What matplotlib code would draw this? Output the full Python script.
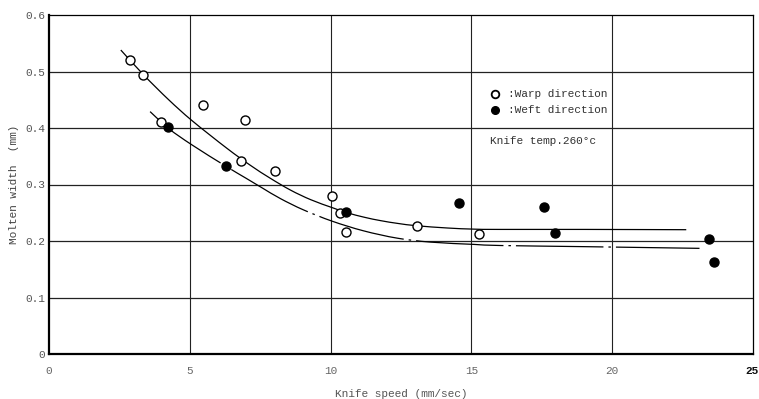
import matplotlib
matplotlib.use("Agg")
import matplotlib.pyplot as plt
from matplotlib.path import Path
from matplotlib.patches import PathPatch

warp_x = [2.88, 3.35, 3.99, 5.48, 6.97, 6.83, 8.04, 10.04, 10.32, 10.53, 13.06, 15.27]
warp_y = [0.520, 0.494, 0.411, 0.441, 0.414, 0.342, 0.324, 0.280, 0.249, 0.216, 0.227, 0.212]

weft_x = [4.23, 6.30, 10.53, 14.56, 17.58, 17.97, 23.45, 23.60]
weft_y = [0.402, 0.333, 0.251, 0.267, 0.260, 0.214, 0.204, 0.163]

# hand-drawn fit curves
warp_fit_x = [2.55, 3.36, 4.25, 5.08, 6.32, 7.15, 7.86, 8.58, 9.3, 10.06,
              10.59, 11.2, 11.78, 12.4, 13.06, 14.15, 15.09, 16.05, 19.0, 22.63]
warp_fit_y = [0.538, 0.494, 0.450, 0.413, 0.364, 0.334, 0.311, 0.290, 0.273, 0.259,
              0.250, 0.242, 0.236, 0.231, 0.227, 0.223, 0.221, 0.2205, 0.2205, 0.220]

weft_fit_x = [3.59, 4.25, 5.08, 6.26, 7.0, 7.57, 8.22, 9.04, 10.06, 11.17, 12.37, 13.56,
              15.09, 16.05, 19.0, 23.1]
weft_fit_y = [0.429, 0.399, 0.370, 0.333, 0.311, 0.294, 0.275, 0.255, 0.235, 0.218, 0.205, 0.198,
              0.194, 0.192, 0.190, 0.187]

x_ticks = [0, 5, 10, 15, 20, 25]
x_tick_labels = ["0", "5", "10", "15", "20", "25"]
y_ticks = [0, 0.1, 0.2, 0.3, 0.4, 0.5, 0.6]
y_tick_labels = ["0", "0.1", "0.2", "0.3", "0.4", "0.5", "0.6"]

mono = "Liberation Mono"


def smooth_path(xs, ys):
    # catmull-rom through the traced points, handed to matplotlib as bezier segments
    pts = list(zip(xs, ys))
    verts = [pts[0]]
    codes = [Path.MOVETO]
    for i in range(len(pts) - 1):
        p0 = pts[max(i - 1, 0)]
        p1 = pts[i]
        p2 = pts[i + 1]
        p3 = pts[min(i + 2, len(pts) - 1)]
        c1 = (p1[0] + (p2[0] - p0[0]) / 6, p1[1] + (p2[1] - p0[1]) / 6)
        c2 = (p2[0] - (p3[0] - p1[0]) / 6, p2[1] - (p3[1] - p1[1]) / 6)
        verts += [c1, c2, p2]
        codes += [Path.CURVE4] * 3
    return Path(verts, codes)


fig = plt.figure(figsize=(7.59, 3.99), dpi=100)
ax = fig.add_axes([49 / 759, 1 - 354 / 399, 704 / 759, 339 / 399])

ax.set_xlim(0, 25)
ax.set_ylim(0, 0.6)

# grid like graph paper
for xv in x_ticks[1:-1]:
    ax.axvline(xv, color="#222222", lw=0.8, zorder=1)
for yv in y_ticks[1:-1]:
    ax.axhline(yv, color="#222222", lw=0.9, zorder=1)

ax.add_patch(PathPatch(smooth_path(warp_fit_x, warp_fit_y), fill=False,
                       edgecolor="black", lw=0.9, zorder=2))
ax.add_patch(PathPatch(smooth_path(weft_fit_x, weft_fit_y), fill=False,
                       edgecolor="black", lw=0.9, linestyle=(0, (70, 4, 2, 4)), zorder=2))

ax.plot(warp_x, warp_y, "o", ms=6.5, mfc="white", mec="black", mew=1.0, zorder=3)
ax.plot(weft_x, weft_y, "o", ms=6.5, mfc="black", mec="black", zorder=3)

# in-plot legend and note
ax.plot([15.85], [0.460], "o", ms=5.5, mfc="white", mec="black", mew=1.3, zorder=3)
ax.plot([15.85], [0.431], "o", ms=5.5, mfc="black", mec="black", zorder=3)
ax.text(16.3, 0.460, ":Warp direction", family=mono, fontsize=8, color="#333333", va="center")
ax.text(16.3, 0.431, ":Weft direction", family=mono, fontsize=8, color="#333333", va="center")
ax.text(15.65, 0.377, "Knife temp.260\u00b0c", family=mono, fontsize=8, color="#333333", va="center")

ax.set_xticks(x_ticks[:-1])
ax.set_xticklabels(x_tick_labels[:-1], family=mono, fontsize=8, color="#666666")
ax.set_yticks(y_ticks)
ax.set_yticklabels(y_tick_labels, family=mono, fontsize=8, color="#555555")
ax.tick_params(axis="y", length=0, pad=3)
ax.tick_params(axis="x", length=0, pad=9)
fig.text(759 / 759, 1 - 366 / 399, x_tick_labels[-1], family=mono, fontsize=8,
         fontweight="bold", color="#111111", ha="right", va="top")

ax.set_xlabel("Knife speed (mm/sec)", family=mono, fontsize=8, color="#555555", labelpad=9)
ax.set_ylabel("Molten width  (mm)", family=mono, fontsize=8, color="#444444", labelpad=4)

for side in ["left", "bottom"]:
    ax.spines[side].set_linewidth(1.6)
for side in ["top", "right"]:
    ax.spines[side].set_linewidth(0.9)

fig.savefig("out.png", dpi=100)
